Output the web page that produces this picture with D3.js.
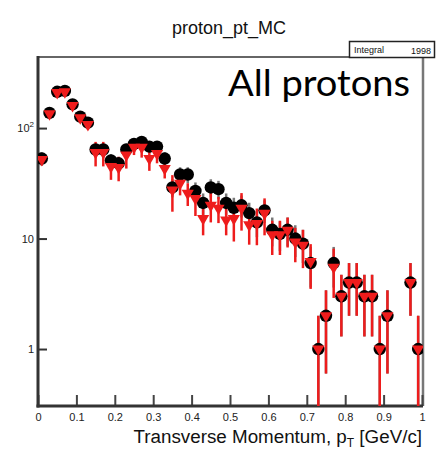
<!DOCTYPE html>
<html><head><meta charset="utf-8">
<script src="https://cdn.jsdelivr.net/npm/d3@7/dist/d3.min.js"></script>
<style>body{margin:0;background:#fff;} svg{display:block;}</style>
</head><body><svg id="c" width="437" height="450"></svg>
<script>
// ---- data ----
const binCenters = [0.01,0.03,0.05,0.07,0.09,0.11,0.13,0.15,0.17,0.19,
  0.21,0.23,0.25,0.27,0.29,0.31,0.33,0.35,0.37,0.39,
  0.41,0.43,0.45,0.47,0.49,0.51,0.53,0.55,0.57,0.59,
  0.61,0.63,0.65,0.67,0.69,0.71,0.73,0.75,0.77,0.79,
  0.81,0.83,0.85,0.87,0.89,0.91,0.93,0.95,0.97,0.99];
const dataCounts = [53,137,213,217,164,127,112,64,64,51,48,64,72,75,68,68,53,29,38,38,
  27,21,29,28,21,19,20,17,14,18,12,11,12,10,9,6,1,2,6,3,4,4,3,3,1,2,0,0,4,1];
const dataErr = [7.3,11.7,14.6,14.7,12.8,11.3,10.6,8,8,7.1,6.9,8,8.5,8.7,8.2,8.2,7.3,5.4,6.2,6.2,
  5.2,4.6,5.4,5.3,4.6,4.4,4.5,4.1,3.7,4.2,3.5,3.3,3.5,3.2,3,2.4,1,1.4,2.4,1.7,2,2,1.7,1.7,1,1.4,0,0,2,1];
const mcValues = [52,135,210,213,160,124,108,60,60,45,44,57,67,67,53,59,43,27.5,31.6,25.7,
  23,15.2,20,18.8,14.7,15.2,18.8,13.3,13.7,16.9,10.8,10.8,11.9,9.3,8.7,6.2,1,2,5.5,3,4,4,3,3,1,2,0,0,4,1];
const mcErr = [6,12,15,15,13,11,11,15,15,11,11,14,10,13,12,11,8,10,7,6,
  7,4.5,6,5,4,5.8,7,4.5,5,6.2,3.7,3.7,3.6,3.2,3.3,2.7,1,1.4,2.6,1.7,2,2,1.7,1.7,1,1.4,0,0,2,1];
const xTickValues = [0,0.1,0.2,0.3,0.4,0.5,0.6,0.7,0.8,0.9,1];
const xTickLabels = ["0","0.1","0.2","0.3","0.4","0.5","0.6","0.7","0.8","0.9","1"];
const yTickValues = [1,10,100];
const yTickLabels = ["1","10","10|2"];
const titleText = "proton_pt_MC";
const xAxisTitle = "Transverse Momentum, p";
const statsLabel = "Integral";
const statsValue = "1998";
const annotation = "All protons";

// ---- layout ----
const L = 38, R = 423, T = 57, B = 406;
const svg = d3.select("#c");
const x = d3.scaleLinear().domain([0,1]).range([L, R-1]);
const y = d3.scaleLog().domain([0.305, 440]).range([B, T]);

svg.append("defs").append("clipPath").attr("id","clip")
  .append("rect").attr("x",L).attr("y",T).attr("width",R-L).attr("height",B-T);

const font = "'Liberation Sans', Arial, sans-serif";

// frame top/right
svg.append("line").attr("x1",L).attr("x2",R).attr("y1",T).attr("y2",T).attr("stroke","#666").attr("stroke-width",2);
svg.append("line").attr("x1",R).attr("x2",R).attr("y1",T).attr("y2",B).attr("stroke","#777").attr("stroke-width",2.5);

// y axis ticks
const minorY = [0.4,0.5,0.6,0.7,0.8,0.9,2,3,4,5,6,7,8,9,20,30,40,50,60,70,80,90,200,300,400];
const gy = svg.append("g").attr("transform",`translate(${L},0)`);
gy.call(d3.axisLeft(y).tickValues(minorY).tickSize(-5).tickFormat("").tickSizeOuter(0));
gy.call(d3.axisLeft(y).tickValues(yTickValues).tickSize(-9).tickPadding(4).tickSizeOuter(0)
  .tickFormat((d,i)=>yTickLabels[i]));
gy.selectAll("path.domain").remove();
gy.selectAll(".tick line").attr("stroke","#333").attr("stroke-width",2);
gy.selectAll(".tick text").attr("font-family",font).attr("font-size",11).attr("fill","#222")
  .each(function(){
    const t = d3.select(this); const s = t.text();
    if (s.includes("|")) {
      const [base, ex] = s.split("|");
      t.text(base);
      t.append("tspan").attr("dy",-5).attr("font-size",8).text(ex);
    }
  });

// x axis ticks
const minorX = d3.range(0,1.0001,0.02).filter(v => Math.abs(v*10 - Math.round(v*10))>1e-6);
const gx = svg.append("g").attr("transform",`translate(0,${B})`);
gx.call(d3.axisBottom(x).tickValues(minorX).tickSize(-5).tickFormat("").tickSizeOuter(0));
gx.call(d3.axisBottom(x).tickValues(xTickValues).tickSize(-11).tickPadding(7).tickSizeOuter(0)
  .tickFormat((d,i)=>xTickLabels[i]));
gx.selectAll("path.domain").remove();
gx.selectAll(".tick line").attr("stroke","#444").attr("stroke-width",2);
gx.selectAll(".tick text").attr("font-family",font).attr("font-size",11).attr("fill","#222");

// axis lines
svg.append("line").attr("x1",L).attr("x2",L).attr("y1",T-1).attr("y2",B+1.5).attr("stroke","#333").attr("stroke-width",3);
svg.append("line").attr("x1",L-1.5).attr("x2",R).attr("y1",B).attr("y2",B).attr("stroke","#333").attr("stroke-width",3);

// data
const plot = svg.append("g").attr("clip-path","url(#clip)");
const idx = d3.range(binCenters.length);
const dIdx = idx.filter(i => dataCounts[i] > 0);
const mIdx = idx.filter(i => mcValues[i] > 0);
const yc = v => v <= 0 ? B + 20 : y(v);

plot.selectAll("line.derr").data(dIdx).join("line").attr("class","derr")
  .attr("x1",i=>x(binCenters[i])).attr("x2",i=>x(binCenters[i]))
  .attr("y1",i=>yc(dataCounts[i]+dataErr[i])).attr("y2",i=>yc(dataCounts[i]-dataErr[i]))
  .attr("stroke","#777").attr("stroke-width",2.5);
plot.selectAll("line.merr").data(mIdx).join("line").attr("class","merr")
  .attr("x1",i=>x(binCenters[i])).attr("x2",i=>x(binCenters[i]))
  .attr("y1",i=>yc(mcValues[i]+mcErr[i])).attr("y2",i=>yc(mcValues[i]-mcErr[i]))
  .attr("stroke","#ee1c1c").attr("stroke-width",2.5);
plot.selectAll("circle.dpt").data(dIdx).join("circle").attr("class","dpt")
  .attr("cx",i=>x(binCenters[i])).attr("cy",i=>y(dataCounts[i])).attr("r",6.2).attr("fill","#000");
const tri = d3.symbol().type(d3.symbolTriangle).size(64);
plot.selectAll("path.mpt").data(mIdx).join("path").attr("class","mpt")
  .attr("d",tri)
  .attr("transform",i=>`translate(${x(binCenters[i])},${y(mcValues[i])}) rotate(180)`)
  .attr("fill","#ee1c1c");

// title
svg.append("text").attr("x",229).attr("y",34).attr("text-anchor","middle")
  .attr("font-family",font).attr("font-size",18).attr("fill","#111").text(titleText);

// stats box
svg.append("rect").attr("x",349.5).attr("y",41.5).attr("width",85).attr("height",16)
  .attr("fill","#fff").attr("stroke","#222").attr("stroke-width",1.5);
svg.append("text").attr("x",354).attr("y",53).attr("font-family",font).attr("font-size",9)
  .attr("fill","#111").text(statsLabel);
svg.append("text").attr("x",431).attr("y",54).attr("text-anchor","end").attr("font-family",font)
  .attr("font-size",9).attr("fill","#111").text(statsValue);

// x axis title
const xt = svg.append("text").attr("x",422).attr("y",443).attr("text-anchor","end")
  .attr("font-family",font).attr("font-size",18.8).attr("fill","#111");
xt.append("tspan").text(xAxisTitle);
xt.append("tspan").attr("dy",4).attr("font-size",12).text("T");
xt.append("tspan").attr("dy",-4).text(" [GeV/c]");

// annotation
svg.append("text").attr("x",228).attr("y",96).attr("font-family","Lato, 'Open Sans', sans-serif")
  .attr("font-size",36).attr("textLength",182).attr("lengthAdjust","spacingAndGlyphs")
  .attr("fill","#000").text(annotation);
</script></body></html>
